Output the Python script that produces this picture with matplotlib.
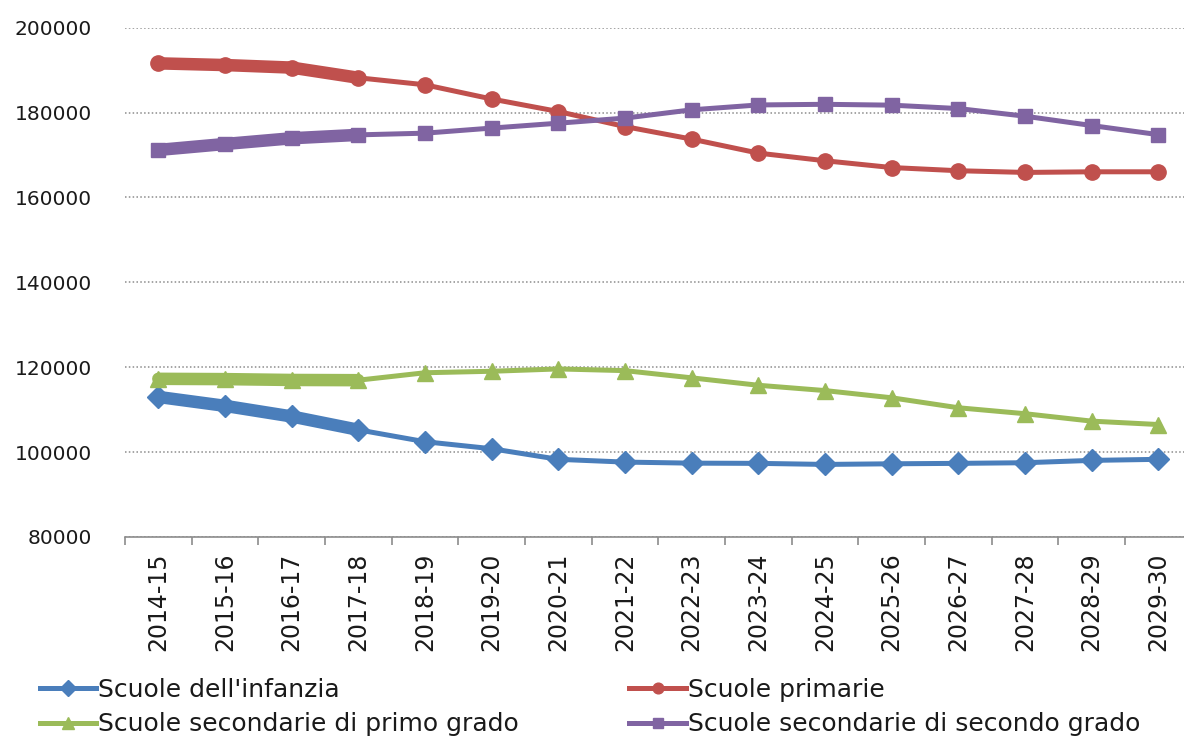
import numpy as np
import matplotlib
matplotlib.use("Agg")
import matplotlib.pyplot as plt
from matplotlib.ticker import FixedLocator

plt.rcParams['font.family'] = ['DejaVu Sans']

anni = ['2014-15', '2015-16', '2016-17', '2017-18', '2018-19', '2019-20',
        '2020-21', '2021-22', '2022-23', '2023-24', '2024-25', '2025-26',
        '2026-27', '2027-28', '2028-29', '2029-30']

infanzia = [113000, 110900, 108400, 105250, 102450, 100800, 98300, 97650,
            97400, 97350, 97100, 97250, 97350, 97500, 98050, 98300]
primarie = [191600, 191200, 190600, 188200, 186550, 183200, 180250, 176700,
            173750, 170450, 168650, 167050, 166300, 165900, 166050, 166050]
sec_primo = [117270, 117200, 117000, 116950, 118700, 119050, 119600, 119200,
             117500, 115750, 114500, 112800, 110450, 109050, 107300, 106500]
sec_secondo = [171200, 172600, 173950, 174750, 175150, 176350, 177500, 178700,
               180650, 181800, 181950, 181750, 180950, 179150, 176950, 174800]

# gli anni scolastici gia' osservati sono tracciati con linea piu' spessa
n_storici = 4

serie = [
    ("Scuole dell'infanzia", infanzia, '#4A7EBB', 'D', 11),
    ("Scuole secondarie di primo grado", sec_primo, '#9BBB59', '^', 12),
    ("Scuole primarie", primarie, '#C0504D', 'o', 11),
    ("Scuole secondarie di secondo grado", sec_secondo, '#8064A2', 's', 10.5),
]

fig = plt.figure(figsize=(11.84, 7.38), dpi=100)
ax = fig.add_axes([125 / 1184, 201 / 738, 1066.7 / 1184, 509.3 / 738])

x = np.arange(len(anni))
handles = []
for nome, valori, colore, marker, ms in serie:
    ax.plot(x[:n_storici], valori[:n_storici], color=colore, lw=9,
            solid_capstyle='round', zorder=3)
    h, = ax.plot(x, valori, color=colore, lw=3.6, marker=marker, ms=ms,
                 solid_joinstyle='round', zorder=4, label=nome)
    handles.append(h)

ax.set_xlim(-0.5, len(anni) - 0.5)
ax.set_ylim(80000, 200000)
ax.set_yticks(np.arange(80000, 200001, 20000))
ax.yaxis.grid(True, linestyle=(0, (1, 1.5)), color='#8c8c8c', lw=1.1)
ax.set_axisbelow(True)

ax.set_xticks(x)
ax.set_xticklabels(anni, rotation=90, fontsize=17, color='#1a1a1a')
ax.xaxis.set_minor_locator(FixedLocator(np.arange(-0.5, len(anni), 1)))
ax.tick_params(axis='x', which='major', length=0, pad=11)
ax.tick_params(axis='x', which='minor', length=6, width=1.2, color='#8c8c8c')
ax.tick_params(axis='y', length=0, pad=24, labelsize=14.5, labelcolor='#1a1a1a')

for lato in ['top', 'right', 'left']:
    ax.spines[lato].set_visible(False)
ax.spines['bottom'].set_color('#8c8c8c')
ax.spines['bottom'].set_linewidth(1.2)

leg = fig.legend(handles=handles, ncol=2, loc='lower left',
                 bbox_to_anchor=(22 / 1184, -16 / 738), frameon=False,
                 fontsize=18, handlelength=2.26, handletextpad=0.1,
                 columnspacing=4.4, labelspacing=0.42, borderpad=0.2,
                 markerscale=0.7)
for t in leg.get_texts():
    t.set_color('#1a1a1a')

fig.savefig('out.png', dpi=100)
